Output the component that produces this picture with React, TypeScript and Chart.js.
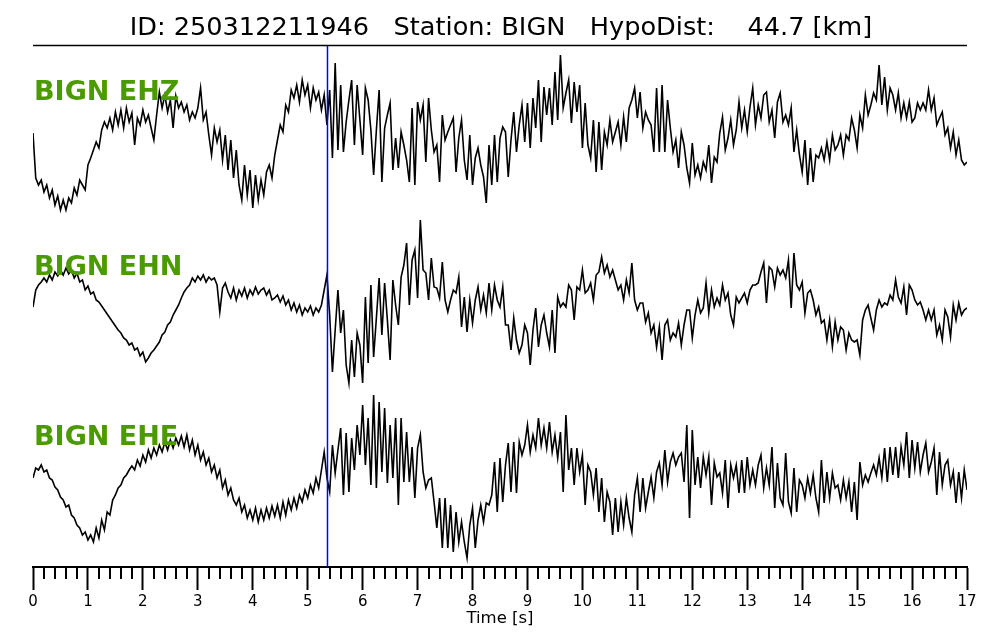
import { useEffect, useRef } from "react";
import { Chart, registerables } from "chart.js";

Chart.register(...registerables);

// ---------- data ----------
const TITLE = "ID: 250312211946   Station: BIGN   HypoDist:    44.7 [km]";
const X_TITLE = "Time [s]";
const SAMPLE_INTERVAL = 0.05; // s
const TIME_MIN = 0;
const TIME_MAX = 17;
const MAJOR_STEP = 1;
const MINOR_STEP = 0.2;
const P_PICK = 5.36; // s

const CHANNELS = ["BIGN EHZ", "BIGN EHN", "BIGN EHE"];
const TRACE_OFFSETS = [437, 262, 92];
const Y_MIN = 0;
const Y_MAX = 521;

// amplitudes (relative units), one sample every 0.05 s, 0..17 s
const EHZ = [
  -3, -48, -55, -50, -62, -55, -68, -60, -75, -66, -80, -70, -80, -68, -73, -58, -65, -50, -55, -60,
  -35, -28, -20, -12, -18, 0, 8, 2, 12, 0, 18, 5, 20, 2, 22, 8, 17, -15, 12, 5,
  20, 8, 15, 2, -10, 15, 38, 22, 35, 18, 30, 2, 34, 22, 28, 18, 25, 10, 18, 12,
  22, 42, 10, 18, -5, -25, 2, -12, 0, -30, -5, -40, -10, -48, -20, -55, -70, -35, -65, -40,
  -78, -45, -70, -50, -65, -42, -35, -48, -25, -10, 5, -2, 25, 18, 40, 32, 45, 28, 50, 35,
  45, 22, 42, 30, 38, 20, 35, 5, 40, -28, 67, -20, 45, -22, 8, 30, 50, -15, 45, 10,
  -25, 42, 30, 0, -45, 0, 40, -52, 2, 15, 27, -40, -8, -38, -2, -15, -30, -52, 22, -55,
  28, 10, 25, -32, 32, 0, -22, -15, -52, 15, -10, -2, 5, 12, -42, -8, 10, -30, -50, -5,
  -55, -28, -18, -35, -47, -73, -15, -55, -5, -52, -8, 3, -2, -47, -10, 18, -22, 5, 25, -12,
  27, -18, 32, 2, 50, -12, 43, 15, 42, 5, 58, 10, 75, 22, 37, 50, 7, 48, 18, 45,
  -18, 27, -15, -28, 10, -42, 8, -40, -2, -15, 10, -12, -2, 8, -15, 13, -12, 22, 30, 42,
  12, 38, 2, 18, 10, 5, -22, 42, -22, 45, -22, 30, 2, -22, -10, -38, -2, -15, -38, -53,
  -13, -45, -35, -48, -32, -40, -15, -53, -27, -32, -3, 13, -20, -8, 10, -15, 0, 28, 2, 20,
  -2, 23, 42, 5, 25, 12, 35, 38, 8, 20, -8, 28, 37, 8, 15, 5, 22, -22, 0, -25,
  -42, -10, -55, -18, -52, -25, -28, -18, -30, -12, -30, -5, -20, -15, -5, -25, -5, -10, 12, 0,
  -18, 15, 2, 35, 15, 25, 37, 30, 65, 25, 53, 20, 42, 35, 20, 37, 12, 27, 12, 28,
  8, 12, 27, 20, 27, 20, 40, 20, 32, 5, 12, 18, -5, 2, -18, -2, -25, -10, -30, -35,
  -32,
];

const EHN = [
  -2, 15, 20, 23, 27, 23, 30, 25, 33, 29, 35, 30, 37, 31, 35, 27, 32, 23, 25, 15,
  19, 11, 13, 5, 3, -1, -5, -9, -13, -17, -21, -25, -28, -33, -35, -40, -38, -45, -43, -51,
  -47, -57, -53, -48, -45, -41, -37, -30, -27, -20, -17, -10, -5, 0, 7, 13, 17, 20, 27, 23,
  29, 25, 30, 23, 28, 25, 27, 20, -7, 17, 22, 13, 7, 17, 5, 15, 9, 17, 7, 15,
  10, 18, 11, 15, 17, 10, 15, 5, 7, 10, 3, 9, 0, 5, -5, 2, -7, 0, -10, -3,
  -7, -1, -10, -3, -7, 0, 15, 30, -10, -67, -25, 15, -28, -5, -60, -78, -35, -72, -28, -40,
  -78, 8, -58, 20, -52, -13, 27, -30, 22, -15, -55, 25, 0, -20, 28, 40, 62, 0, 45, 55,
  7, 85, 35, 32, 5, 47, 18, 17, 7, 43, 5, -7, 5, 15, 12, 28, -22, 8, -27, 5,
  -18, 5, 18, -5, 10, -8, 22, -5, 20, 5, -2, 18, -20, -20, -45, -13, -35, -48, -40, -20,
  -28, -60, -25, -3, -42, -20, -10, -28, -42, -5, -48, 8, -2, 2, -2, 20, 15, -15, 18, 15,
  35, 12, 15, 22, 5, 30, 33, 48, 32, 40, 28, 35, 25, 15, 20, 5, 25, 12, 42, 5,
  -5, 2, 2, -17, -8, -28, -20, -42, -22, -55, -20, -15, -35, -28, -32, -18, -40, -20, -5, -5,
  -33, -10, 5, -8, -3, 22, -8, 15, -2, 7, 0, 20, 5, 12, -10, -20, 8, 2, 7, 12,
  2, 15, 20, 20, 22, 33, 42, 2, 38, 35, 18, 37, 30, 35, 27, 45, -3, 52, 20, 15,
  23, -8, 12, 15, 5, -10, -2, -18, -15, -35, -15, -42, -17, -35, -22, -25, -45, -28, -35, -37,
  -35, -50, -15, -5, 0, -13, -25, -5, 5, -2, 2, 0, 10, 5, 25, 8, 2, 18, -10, 20,
  15, 5, 0, 3, -5, -15, -5, -15, -5, -30, -20, -35, -5, -12, -32, 0, -15, 2, -10, -5,
  -3,
];

const EHE = [
  -3, 7, 5, 10, 3, 5, -3, -5, -12, -15, -22, -25, -32, -30, -40, -43, -50, -53, -60, -57,
  -65, -60, -67, -53, -63, -45, -55, -37, -40, -25, -20, -13, -10, -3, 0, 5, 9, 5, 15, 9,
  20, 13, 25, 17, 27, 20, 30, 23, 33, 25, 35, 27, 37, 30, 39, 28, 40, 25, 35, 20,
  30, 15, 23, 10, 17, 3, 10, -3, 5, -13, -5, -20, -13, -25, -30, -23, -37, -30, -43, -35,
  -45, -33, -47, -35, -45, -33, -43, -31, -41, -30, -43, -27, -40, -25, -35, -23, -33, -20, -27, -15,
  -23, -10, -18, -3, -13, 5, 23, -3, -17, 30, 2, 25, 47, -20, 42, -17, 37, 5, 50, 20,
  70, 10, 57, -10, 80, -13, 73, 3, 67, -8, 50, -3, 57, -30, 57, -7, 43, -7, 28, -23,
  27, 40, 3, -13, -5, -3, -27, -53, -23, -73, -23, -73, -30, -77, -37, -67, -47, -67, -83, -50,
  -33, -73, -45, -30, -47, -28, -30, -20, 13, -37, 17, -27, 10, 32, -17, 33, -18, 33, 20, 30,
  50, 23, 40, 27, 57, 30, 47, 27, 53, 23, 40, 17, 43, -17, 60, 5, 27, -10, 27, 3,
  20, -30, 10, 3, -20, 7, -37, -3, -47, -17, -27, -60, -23, -57, -27, -50, -23, -43, -57, -20,
  -3, -37, -3, -33, -17, -2, -23, 3, 12, -10, 25, -7, 13, 22, 10, 18, 22, -7, 50, -43,
  45, -10, 18, -13, 18, 0, 18, -30, 12, -2, 2, -18, 15, -33, 10, -3, 10, -18, 15, -18,
  18, -10, 5, -10, 10, 20, -13, 7, -10, 28, -33, 12, -23, -30, 22, -27, -38, 7, -37, -5,
  -10, -23, -3, -18, 0, -23, -37, 15, -28, 3, -23, 2, -13, -10, -25, -5, -23, -7, -37, -7,
  -45, 13, -10, 0, -7, 2, 10, 0, 17, -3, 27, -7, 28, 0, 28, -3, 28, 10, 43, -3,
  35, 7, 33, 3, 20, 32, 3, 13, 27, -20, 23, -10, 10, 15, -10, 3, -28, 3, -23, 5,
  -15,
];

const TRACES = [EHZ, EHN, EHE];

// ---------- styles ----------
const FONT = '"DejaVu Sans", "Liberation Sans", sans-serif';
const LABEL_COLOR = "#4b9a00";
const TRACE_COLOR = "#000000";
const PICK_COLOR = "#0000ff";

const decorPlugin = {
  id: "decor",
  afterDatasetsDraw(chart: any) {
    const { ctx, chartArea, scales } = chart;
    const y = scales.y;
    ctx.save();
    ctx.fillStyle = LABEL_COLOR;
    ctx.font = `bold 27px ${FONT}`;
    ctx.textAlign = "left";
    ctx.textBaseline = "alphabetic";
    CHANNELS.forEach((name, i) => {
      const py = y.getPixelForValue(TRACE_OFFSETS[i] + 30);
      ctx.fillText(name, chartArea.left + 1, py);
    });
    ctx.restore();
  },
  afterDraw(chart: any) {
    const { ctx, chartArea, scales } = chart;
    const x = scales.x;
    ctx.save();
    // title
    ctx.fillStyle = "#000";
    ctx.font = `25.6px ${FONT}`;
    ctx.textAlign = "center";
    ctx.textBaseline = "alphabetic";
    ctx.fillText(TITLE, (chartArea.left + chartArea.right) / 2 + 1, chartArea.top - 11);
    // top spine
    ctx.strokeStyle = "#000";
    ctx.lineWidth = 1.5;
    ctx.beginPath();
    ctx.moveTo(chartArea.left, chartArea.top - 0.5);
    ctx.lineTo(chartArea.right, chartArea.top - 0.5);
    ctx.stroke();
    // minor ticks
    ctx.lineWidth = 2;
    ctx.beginPath();
    const n = Math.round((TIME_MAX - TIME_MIN) / MINOR_STEP);
    for (let i = 0; i <= n; i++) {
      const v = TIME_MIN + i * MINOR_STEP;
      if (Math.abs(v / MAJOR_STEP - Math.round(v / MAJOR_STEP)) < 1e-6) continue;
      const px = Math.round(x.getPixelForValue(v));
      ctx.moveTo(px, chartArea.bottom);
      ctx.lineTo(px, chartArea.bottom + 12);
    }
    ctx.stroke();
    ctx.restore();
  },
};

export default function App() {
  const canvasRef = useRef<HTMLCanvasElement | null>(null);

  useEffect(() => {
    const canvas = canvasRef.current;
    if (!canvas) return;

    const traceSets = TRACES.map((arr, k) => ({
      label: CHANNELS[k],
      data: arr.map((a, i) => ({ x: TIME_MIN + i * SAMPLE_INTERVAL, y: TRACE_OFFSETS[k] + a })),
      borderColor: TRACE_COLOR,
      borderWidth: 1.6,
      pointRadius: 0,
      tension: 0,
      fill: false,
    }));

    const pickSet = {
      label: "P",
      data: [
        { x: P_PICK, y: Y_MIN },
        { x: P_PICK, y: Y_MAX },
      ],
      borderColor: PICK_COLOR,
      borderWidth: 1.5,
      pointRadius: 0,
      fill: false,
    };

    const chart = new Chart(canvas, {
      type: "line",
      data: { datasets: [pickSet, ...traceSets] as any },
      options: {
        responsive: false,
        animation: false,
        events: [],
        layout: { padding: { left: 33, right: 33, top: 46, bottom: 0 } },
        plugins: {
          legend: { display: false },
          tooltip: { enabled: false },
          title: { display: false },
        },
        scales: {
          x: {
            type: "linear",
            min: TIME_MIN,
            max: TIME_MAX,
            afterFit: (scale: any) => {
              scale.height = 73;
            },
            ticks: {
              stepSize: MAJOR_STEP,
              autoSkip: false,
              maxRotation: 0,
              color: "#000",
              padding: 3,
              font: { family: FONT, size: 15 },
            },
            grid: {
              display: true,
              drawOnChartArea: false,
              drawTicks: true,
              tickLength: 23,
              tickWidth: 2,
              tickColor: "#000",
              color: "#000",
            },
            border: { display: true, color: "#000", width: 2 },
            title: {
              display: true,
              text: X_TITLE,
              color: "#000",
              font: { family: FONT, size: 16.5 },
              padding: { top: 0, bottom: 11 },
            },
          },
          y: {
            type: "linear",
            display: false,
            min: Y_MIN,
            max: Y_MAX,
          },
        },
      },
      plugins: [decorPlugin],
    });

    return () => chart.destroy();
  }, []);

  return (
    <div style={{ position: "absolute", left: 0, top: 0, width: 1000, height: 640, background: "#fff" }}>
      <canvas ref={canvasRef} width={1000} height={640} />
    </div>
  );
}
